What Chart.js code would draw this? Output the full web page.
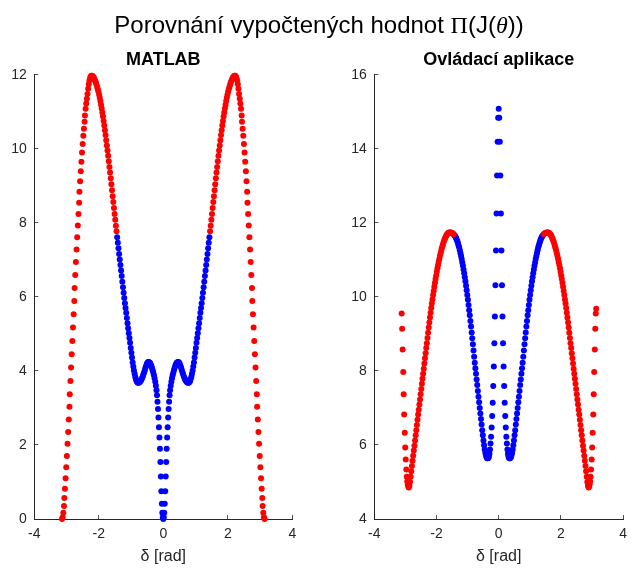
<!DOCTYPE html>
<html><head><meta charset="utf-8">
<script src="https://cdn.jsdelivr.net/npm/chart.js@4.4.1/dist/chart.umd.min.js"></script>
<style>
html,body{margin:0;padding:0;background:#fff;}
#wrap{position:relative;width:638px;height:570px;overflow:hidden;}
canvas{position:absolute;top:0;}
#c1{left:0;} #c2{left:319px;}
#suptitle{position:absolute;left:0;width:638px;top:13px;text-align:center;font-family:"Liberation Sans",Arial,Helvetica,sans-serif;font-size:24px;line-height:24px;color:#000;white-space:nowrap;z-index:2;}
.sym{font-family:"Liberation Serif","DejaVu Serif",serif;}
.it{font-style:italic;}
</style></head>
<body><div id="wrap">
<div id="suptitle">Porovnání vypočtených hodnot <span class="sym">Π</span>(J(<span class="sym it">θ</span>))</div>
<canvas id="c1" width="319" height="570"></canvas>
<canvas id="c2" width="319" height="570"></canvas>
</div>
<script>
// ---- tick values ----
const xTickValues = [-4, -2, 0, 2, 4];
const matlabYTicks = [0, 2, 4, 6, 8, 10, 12];
const appYTicks = [4, 6, 8, 10, 12, 14, 16];

// ---- MATLAB subplot: red points ----
const matlabRedX = [-3.14,-3.12,-3.10,-3.08,-3.07,-3.05,-3.03,-3.01,-2.99,-2.97,-2.95,-2.93,-2.91,-2.90,-2.88,-2.86,-2.84,-2.82,-2.80,-2.78,-2.76,-2.75,-2.73,-2.71,-2.69,-2.67,-2.65,-2.63,-2.61,-2.60,-2.58,-2.56,-2.54,-2.52,-2.50,-2.48,-2.46,-2.44,-2.43,-2.41,-2.39,-2.37,-2.35,
-2.33,-2.31,-2.29,-2.27,-2.25,-2.23,-2.21,-2.19,-2.17,-2.15,-2.13,-2.11,-2.09,-2.07,-2.05,-2.03,-2.01,-1.99,-1.97,-1.95,-1.93,-1.91,-1.89,-1.87,-1.85,-1.83,-1.81,-1.79,-1.77,-1.75,-1.73,-1.71,-1.69,-1.67,-1.65,-1.63,-1.61,-1.59,-1.57,-1.55,-1.53,-1.51,-1.49,-1.47,-1.45,
1.45,1.47,1.49,1.51,1.53,1.55,1.57,1.59,1.61,1.63,1.65,1.67,1.69,1.71,1.73,1.75,1.77,1.79,1.81,1.83,1.85,1.87,1.89,1.91,1.93,1.95,1.97,1.99,2.01,2.03,2.05,2.07,2.09,2.11,2.13,2.15,2.17,2.19,2.21,2.23,2.25,2.27,2.29,2.31,2.33,
2.35,2.37,2.39,2.41,2.43,2.44,2.46,2.48,2.50,2.52,2.54,2.56,2.58,2.60,2.61,2.63,2.65,2.67,2.69,2.71,2.73,2.75,2.76,2.78,2.80,2.82,2.84,2.86,2.88,2.90,2.91,2.93,2.95,2.97,2.99,3.01,3.03,3.05,3.07,3.08,3.10,3.12,3.14];
const matlabRedY = [0.00,0.05,0.17,0.35,0.57,0.82,1.10,1.40,1.70,2.03,2.35,2.69,3.03,3.37,3.73,4.09,4.45,4.81,5.17,5.53,5.89,6.24,6.59,6.94,7.28,7.61,7.93,8.24,8.54,8.84,9.12,9.39,9.65,9.90,10.13,10.35,10.54,10.73,10.90,11.08,11.22,11.35,11.48,
11.62,11.74,11.84,11.91,11.95,11.97,11.97,11.96,11.94,11.91,11.87,11.83,11.78,11.73,11.67,11.61,11.54,11.46,11.38,11.29,11.19,11.09,10.98,10.87,10.75,10.63,10.50,10.37,10.23,10.09,9.95,9.81,9.66,9.51,9.36,9.20,9.04,8.88,8.72,8.56,8.40,8.24,8.08,7.92,7.77,
7.77,7.92,8.08,8.24,8.40,8.56,8.72,8.88,9.04,9.20,9.36,9.51,9.66,9.81,9.95,10.09,10.23,10.37,10.50,10.63,10.75,10.87,10.98,11.09,11.19,11.29,11.38,11.46,11.54,11.61,11.67,11.73,11.78,11.83,11.87,11.91,11.94,11.96,11.97,11.97,11.95,11.91,11.84,11.74,11.62,
11.48,11.35,11.22,11.08,10.90,10.73,10.54,10.35,10.13,9.90,9.65,9.39,9.12,8.84,8.54,8.24,7.93,7.61,7.28,6.94,6.59,6.24,5.89,5.53,5.17,4.81,4.45,4.09,3.73,3.37,3.03,2.69,2.35,2.03,1.70,1.40,1.10,0.82,0.57,0.35,0.17,0.05,0.00];

// ---- MATLAB subplot: blue points ----
const matlabBlueX = [-1.43,-1.41,-1.39,-1.37,-1.35,-1.33,-1.31,-1.29,-1.27,-1.25,-1.23,-1.21,-1.19,-1.17,-1.15,-1.13,-1.11,-1.09,-1.07,-1.05,-1.03,-1.01,-0.99,-0.97,-0.95,-0.93,-0.91,-0.89,-0.87,-0.85,-0.83,-0.81,-0.79,-0.77,-0.75,-0.73,-0.71,-0.69,-0.67,-0.65,-0.63,-0.61,-0.59,-0.57,-0.55,-0.53,-0.51,-0.49,-0.47,-0.45,-0.43,-0.41,-0.39,-0.37,-0.35,-0.33,-0.31,-0.29,-0.27,-0.25,-0.23,
-0.21,-0.195,-0.18,-0.165,-0.15,-0.135,-0.12,-0.105,-0.09,-0.075,-0.06,-0.045,-0.03,-0.015,
0,
0.015,0.03,0.045,0.06,0.075,0.09,0.105,0.12,0.135,0.15,0.165,0.18,0.195,0.21,
0.23,0.25,0.27,0.29,0.31,0.33,0.35,0.37,0.39,0.41,0.43,0.45,0.47,0.49,0.51,0.53,0.55,0.57,0.59,0.61,0.63,0.65,0.67,0.69,0.71,0.73,0.75,0.77,0.79,0.81,0.83,0.85,0.87,0.89,0.91,0.93,0.95,0.97,0.99,1.01,1.03,1.05,1.07,1.09,1.11,1.13,1.15,1.17,1.19,1.21,1.23,1.25,1.27,1.29,1.31,1.33,1.35,1.37,1.39,1.41,1.43];
const matlabBlueY = [7.61,7.46,7.31,7.16,7.01,6.86,6.71,6.56,6.41,6.26,6.11,5.97,5.83,5.70,5.57,5.43,5.29,5.15,5.02,4.89,4.76,4.62,4.49,4.36,4.23,4.12,4.01,3.92,3.84,3.78,3.73,3.70,3.68,3.68,3.69,3.70,3.72,3.75,3.78,3.82,3.87,3.92,3.97,4.03,4.09,4.14,4.19,4.22,4.24,4.24,4.23,4.21,4.17,4.13,4.08,4.02,3.95,3.88,3.80,3.71,3.60,
3.48,3.34,3.17,2.97,2.74,2.48,2.20,1.90,1.54,1.15,0.75,0.41,0.17,0.05,
0.00,
0.05,0.17,0.41,0.75,1.15,1.54,1.90,2.20,2.48,2.74,2.97,3.17,3.34,3.48,
3.60,3.71,3.80,3.88,3.95,4.02,4.08,4.13,4.17,4.21,4.23,4.24,4.24,4.22,4.19,4.14,4.09,4.03,3.97,3.92,3.87,3.82,3.78,3.75,3.72,3.70,3.69,3.68,3.68,3.70,3.73,3.78,3.84,3.92,4.01,4.12,4.23,4.36,4.49,4.62,4.76,4.89,5.02,5.15,5.29,5.43,5.57,5.70,5.83,5.97,6.11,6.26,6.41,6.56,6.71,6.86,7.01,7.16,7.31,7.46,7.61];

// ---- Ovládací aplikace subplot: red points ----
const appRedX = [-3.12,-3.105,-3.09,-3.07,-3.055,-3.04,-3.02,-3.005,-2.99,-2.97,-2.955,-2.94,-2.925,-2.905,
-2.89,-2.87,-2.85,-2.83,-2.81,-2.79,-2.77,-2.75,-2.73,-2.71,-2.69,-2.67,-2.65,-2.63,-2.61,-2.59,-2.57,-2.55,-2.53,-2.51,-2.49,-2.47,-2.45,-2.43,-2.41,-2.39,-2.37,-2.35,-2.33,-2.31,-2.29,-2.27,-2.25,-2.23,-2.21,-2.19,-2.17,-2.15,-2.13,-2.11,-2.09,-2.07,-2.05,-2.03,-2.01,-1.99,-1.97,-1.95,-1.93,-1.91,-1.89,-1.87,-1.85,-1.83,-1.81,-1.79,-1.77,-1.75,-1.73,-1.71,-1.69,-1.67,-1.65,-1.63,-1.61,-1.59,-1.57,-1.55,-1.53,-1.51,-1.49,-1.47,-1.45,
1.45,1.47,1.49,1.51,1.53,1.55,1.57,1.59,1.61,1.63,1.65,1.67,1.69,1.71,1.73,1.75,1.77,1.79,1.81,1.83,1.85,1.87,1.89,1.91,1.93,1.95,1.97,1.99,2.01,2.03,2.05,2.07,2.09,2.11,2.13,2.15,2.17,2.19,2.21,2.23,2.25,2.27,2.29,2.31,2.33,2.35,2.37,2.39,2.41,2.43,2.45,2.47,2.49,2.51,2.53,2.55,2.57,2.59,2.61,2.63,2.65,2.67,2.69,2.71,2.73,2.75,2.77,2.79,2.81,2.83,2.85,2.87,2.89,
2.905,2.925,2.94,2.955,2.97,2.99,3.005,3.02,3.04,3.055,3.07,3.09,3.105,3.12,3.135];
const appRedY = [9.55,9.14,8.58,7.97,7.37,6.82,6.33,5.93,5.61,5.34,5.14,5.01,4.93,4.87,
4.85,4.90,5.00,5.14,5.29,5.43,5.57,5.71,5.85,5.98,6.12,6.26,6.40,6.54,6.68,6.82,6.95,7.09,7.23,7.37,7.51,7.65,7.79,7.92,8.06,8.20,8.34,8.48,8.62,8.75,8.89,9.03,9.17,9.31,9.44,9.57,9.70,9.82,9.93,10.05,10.16,10.27,10.38,10.48,10.58,10.68,10.77,10.86,10.94,11.02,11.10,11.17,11.24,11.31,11.37,11.43,11.48,11.53,11.57,11.61,11.65,11.68,11.70,11.72,11.73,11.74,11.74,11.74,11.73,11.73,11.72,11.71,11.69,
11.69,11.71,11.72,11.73,11.73,11.74,11.74,11.74,11.73,11.72,11.70,11.68,11.65,11.61,11.57,11.53,11.48,11.43,11.37,11.31,11.24,11.17,11.10,11.02,10.94,10.86,10.77,10.68,10.58,10.48,10.38,10.27,10.16,10.05,9.93,9.82,9.70,9.57,9.44,9.31,9.17,9.03,8.89,8.75,8.62,8.48,8.34,8.20,8.06,7.92,7.79,7.65,7.51,7.37,7.23,7.09,6.95,6.82,6.68,6.54,6.40,6.26,6.12,5.98,5.85,5.71,5.57,5.43,5.29,5.14,5.00,4.90,4.85,
4.87,4.93,5.01,5.14,5.34,5.61,5.93,6.33,6.82,7.37,7.97,8.58,9.14,9.55,9.68];

// ---- Ovládací aplikace subplot: blue points ----
const appBlueX = [-1.43,-1.41,-1.39,-1.37,-1.35,-1.33,-1.31,-1.29,-1.27,-1.25,-1.23,-1.21,-1.19,-1.17,-1.15,-1.13,-1.11,-1.09,-1.07,-1.05,-1.03,-1.01,-0.99,-0.97,-0.95,-0.93,-0.91,-0.89,-0.87,-0.85,-0.83,-0.81,-0.79,-0.77,-0.75,-0.73,-0.71,-0.69,-0.67,-0.65,-0.63,-0.61,-0.59,-0.57,-0.55,-0.53,-0.51,-0.49,-0.47,-0.45,-0.43,-0.41,-0.39,-0.37,-0.35,
-0.3325,-0.315,-0.2975,-0.28,-0.2625,-0.245,-0.2275,-0.21,-0.1925,-0.175,-0.1575,-0.14,-0.1225,-0.105,-0.0875,-0.07,-0.0525,-0.035,-0.0175,
0,
0.0175,0.035,0.0525,0.07,0.0875,0.105,0.1225,0.14,0.1575,0.175,0.1925,0.21,0.2275,0.245,0.2625,0.28,0.2975,0.315,0.3325,
0.35,0.37,0.39,0.41,0.43,0.45,0.47,0.49,0.51,0.53,0.55,0.57,0.59,0.61,0.63,0.65,0.67,0.69,0.71,0.73,0.75,0.77,0.79,0.81,0.83,0.85,0.87,0.89,0.91,0.93,0.95,0.97,0.99,1.01,1.03,1.05,1.07,1.09,1.11,1.13,1.15,1.17,1.19,1.21,1.23,1.25,1.27,1.29,1.31,1.33,1.35,1.37,1.39,1.41,1.43];
const appBlueY = [11.67,11.65,11.62,11.59,11.55,11.50,11.45,11.39,11.33,11.26,11.18,11.10,11.02,10.93,10.84,10.74,10.64,10.53,10.42,10.30,10.18,10.05,9.92,9.78,9.64,9.50,9.35,9.20,9.04,8.88,8.72,8.55,8.38,8.22,8.07,7.92,7.77,7.62,7.46,7.30,7.15,7.00,6.85,6.70,6.55,6.40,6.26,6.12,5.99,5.88,5.79,5.72,5.67,5.64,5.64,
5.65,5.69,5.76,5.88,6.04,6.22,6.47,6.78,7.14,7.59,8.12,8.75,9.47,10.31,11.25,12.25,13.28,14.19,14.84,
15.08,
14.84,14.19,13.28,12.25,11.25,10.31,9.47,8.75,8.12,7.59,7.14,6.78,6.47,6.22,6.04,5.88,5.76,5.69,5.65,
5.64,5.64,5.67,5.72,5.79,5.88,5.99,6.12,6.26,6.40,6.55,6.70,6.85,7.00,7.15,7.30,7.46,7.62,7.77,7.92,8.07,8.22,8.38,8.55,8.72,8.88,9.04,9.20,9.35,9.50,9.64,9.78,9.92,10.05,10.18,10.30,10.42,10.53,10.64,10.74,10.84,10.93,11.02,11.10,11.18,11.26,11.33,11.39,11.45,11.50,11.55,11.59,11.62,11.65,11.67];

// ---- chart construction ----
const AXIS = '#262626';
Chart.defaults.font.family = '"Liberation Sans", Arial, Helvetica, sans-serif';
Chart.defaults.color = AXIS;

function pts(xs, ys, name) {
  if (xs.length !== ys.length) throw new Error(name + ' length mismatch ' + xs.length + ' vs ' + ys.length);
  return xs.map((x, i) => ({x: x, y: ys[i]}));
}

function axisCommon() {
  return {
    grid: {drawOnChartArea: false, drawTicks: true, tickLength: -4, color: AXIS, tickColor: '#555', tickWidth: 1},
    border: {display: true, color: AXIS, width: 1}
  };
}

function build(id, title, rx, ry, bx, by, yTicks, padL, padR) {
  const xa = axisCommon(), ya = axisCommon();
  return new Chart(document.getElementById(id), {
    type: 'scatter',
    data: {datasets: [
      {label: 'red', data: pts(rx, ry, title + ' red'), backgroundColor: '#ff0000', borderWidth: 0, pointRadius: 3, pointHoverRadius: 3, clip: false},
      {label: 'blue', data: pts(bx, by, title + ' blue'), backgroundColor: '#0000ff', borderWidth: 0, pointRadius: 3, pointHoverRadius: 3, clip: false}
    ]},
    options: {
      responsive: false, animation: false, devicePixelRatio: 1, events: [],
      layout: {padding: {left: padL, right: padR, top: 0, bottom: 0}},
      plugins: {
        legend: {display: false}, tooltip: {enabled: false},
        title: {display: true, text: title, color: '#000', font: {size: 18, weight: 'bold'}, padding: {top: 49.7, bottom: 3.4}, fullSize: false}
      },
      scales: {
        x: Object.assign(xa, {
          type: 'linear', min: xTickValues[0], max: xTickValues[xTickValues.length - 1],
          afterBuildTicks: s => { s.ticks = xTickValues.map(v => ({value: v})); },
          ticks: {padding: 11, font: {size: 14}, color: AXIS},
          title: {display: true, text: 'δ [rad]', font: {size: 16}, color: AXIS, padding: {top: 0, bottom: 4}},
          afterFit: s => { s.height = 51; }
        }),
        y: Object.assign(ya, {
          type: 'linear', min: yTicks[0], max: yTicks[yTicks.length - 1],
          afterBuildTicks: s => { s.ticks = yTicks.map(v => ({value: v})); },
          ticks: {padding: 11.6, font: {size: 14}, color: AXIS},
          afterFit: s => { s.width = 34.3; }
        })
      }
    }
  });
}

build('c1', 'MATLAB', matlabRedX, matlabRedY, matlabBlueX, matlabBlueY, matlabYTicks, 0, 26.7);
build('c2', 'Ovládací aplikace', appRedX, appRedY, appBlueX, appBlueY, appYTicks, 21, 5.7);
</script>
</body></html>
